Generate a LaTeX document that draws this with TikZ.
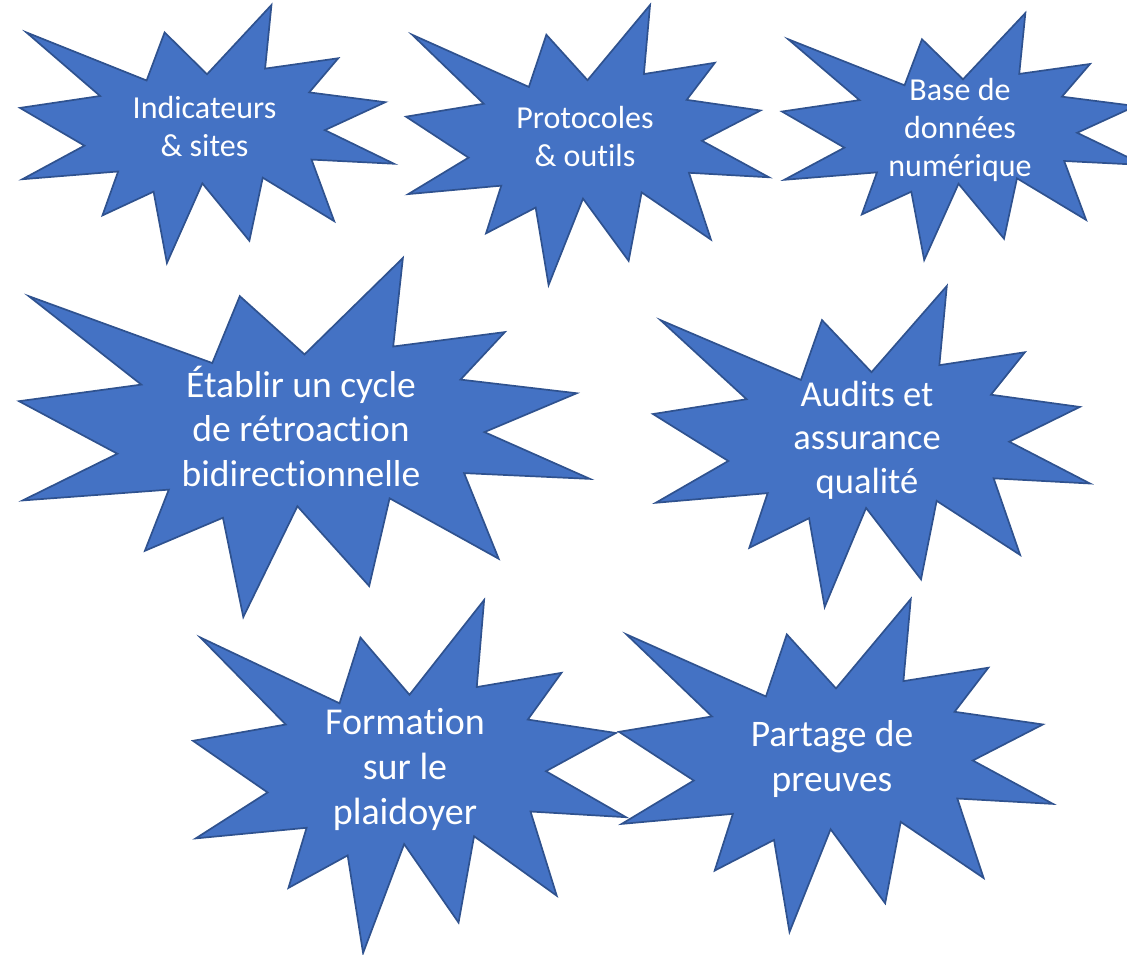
\documentclass[tikz,border=0pt]{standalone}
\usepackage{fontspec}
\setmainfont{Carlito}[Ligatures=NoCommon]
\definecolor{sealfill}{HTML}{4472C4}
\definecolor{sealline}{HTML}{2F528F}
\tikzset{
  sealshape/.style={fill=sealfill, draw=sealline, line width=1.7pt},
  sealsmall/.style={text=white, align=center, font=\fontsize{32}{38}\selectfont, inner sep=0pt},
  sealbig/.style={text=white, align=center, font=\fontsize{37.5}{44.5}\selectfont, inner sep=0pt}
}
% #1 left, #2 top, #3 width, #4 height
\newcommand\explosionpath[4]{%
  \begin{scope}[shift={(#1,#2)}, xscale=#3, yscale=#4]
  \path[sealshape] (0.5,0.26852) -- (0.67231,0) -- (0.65532,0.24653) -- (0.85093,0.20634)
   -- (0.77324,0.33866) -- (0.97671,0.37671) -- (0.81514,0.48495) -- (1,0.61528)
   -- (0.77949,0.59917) -- (0.84005,0.83773) -- (0.64907,0.66931) -- (0.61329,0.91375)
   -- (0.48759,0.69144) -- (0.39282,1) -- (0.35718,0.72347) -- (0.22046,0.81560)
   -- (0.26236,0.64523) -- (0.00625,0.67532) -- (0.17231,0.54514) -- (0,0.39884)
   -- (0.21421,0.35264) -- (0.01713,0.10625) -- (0.33852,0.29259) -- (0.38667,0.10625)
   -- cycle;
  \end{scope}}
\begin{document}
\begin{tikzpicture}[x=1pt,y=-1pt]
\useasboundingbox (0,0) rectangle (1127,954);
\clip (0,0) rectangle (1127,954);
\explosionpath{20}{5}{374}{258}
\explosionpath{406}{5}{363}{280}
\explosionpath{782}{13}{362}{247}
\explosionpath{19}{258}{571}{359}
\explosionpath{653}{286}{437}{321}
\explosionpath{193}{600}{433}{353}
\explosionpath{619}{599}{434}{333}
\node[sealsmall] (ind) at (204.5,127) {Indicateurs\\\& sites};
\node[sealsmall] (pro) at (585,137) {Protocoles\\\& outils};
\node[sealsmall] (base) at (960,130) {Base de\\données\\numérique};
\node[sealbig] (eta) at (301,426) {Établir un cycle\\de rétroaction\\bidirectionnelle};
\node[sealbig, font=\fontsize{36.5}{43.5}\selectfont] (aud) at (867,440) {Audits et\\assurance\\qualité};
\node[sealbig, font=\fontsize{38}{45}\selectfont] (for) at (405,769) {Formation\\sur le\\plaidoyer};
\node[sealbig] (par) at (832,759) {Partage de\\preuves};
\end{tikzpicture}
\end{document}
